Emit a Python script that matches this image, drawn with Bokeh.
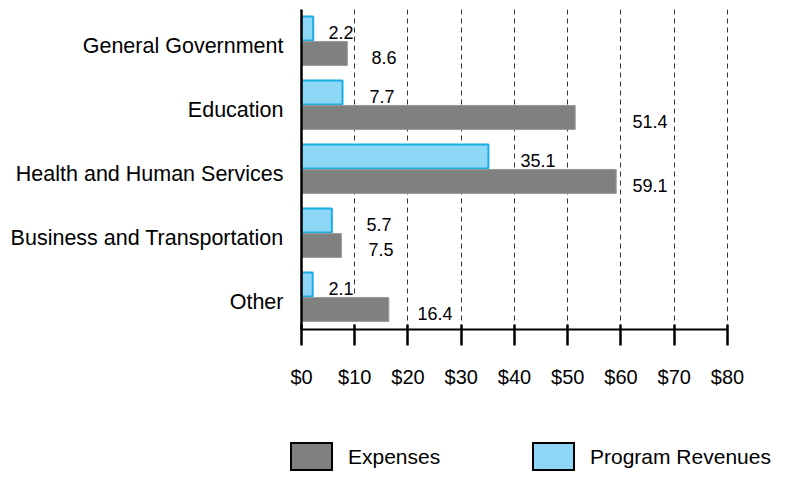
from bokeh.plotting import figure
from bokeh.layouts import column
from bokeh.models import Range1d, FixedTicker, ColumnDataSource, Div
from bokeh.transform import dodge
from bokeh.core.properties import value
from bokeh.embed import file_html
from bokeh.resources import INLINE

# ---- data ----
categories = ["General Government", "Education", "Health and Human Services",
              "Business and Transportation", "Other"]
expenses = [8.6, 51.4, 59.1, 7.5, 16.4]
revenues = [2.2, 7.7, 35.1, 5.7, 2.1]
tick_values = [0, 10, 20, 30, 40, 50, 60, 70, 80]
tick_labels = ["$0", "$10", "$20", "$30", "$40", "$50", "$60", "$70", "$80"]
series_names = ["Expenses", "Program Revenues"]

# label placement offsets (data units, to the right of each bar end)
exp_label_dx = [4.55, 10.76, 3.06, 5.08, 5.38]
rev_label_dx = [2.87, 5.07, 6.03, 6.51, 2.97]

FONT = "Liberation Sans"
EXP_FILL = "#808080"
REV_FILL = "#8fd7f7"
REV_LINE = "#19ade6"

idx = list(range(len(categories)))
src = ColumnDataSource(dict(
    y=idx,
    exp=expenses,
    rev=revenues,
    exp_lx=[v + d for v, d in zip(expenses, exp_label_dx)],
    rev_lx=[v + d for v, d in zip(revenues, rev_label_dx)],
    exp_txt=[f"{v:.1f}" for v in expenses],
    rev_txt=[f"{v:.1f}" for v in revenues],
))

p = figure(width=773, height=420, output_backend="svg", toolbar_location=None,
           x_range=Range1d(0, 80.19), y_range=Range1d(4.43, -0.57),
           min_border_left=301, min_border_right=45,
           min_border_top=9, min_border_bottom=91)
p.outline_line_color = None
p.background_fill_color = "white"

REV_OFF = -0.2734
EXP_OFF = 0.117
BAR_H = 0.375

p.hbar(y=dodge("y", REV_OFF, range=p.y_range), left=0, right="rev",
       height=BAR_H, source=src, fill_color=REV_FILL, line_color=REV_LINE,
       line_width=2)
p.hbar(y=dodge("y", EXP_OFF, range=p.y_range), left=0, right="exp",
       height=BAR_H, source=src, fill_color=EXP_FILL, line_color="#9a9a9a",
       line_width=1)

p.text(x="rev_lx", y=dodge("y", REV_OFF, range=p.y_range), text="rev_txt",
       source=src, text_font=value(FONT), text_font_size="18px",
       text_baseline="middle", text_align="left", y_offset=4,
       text_color="black")
p.text(x="exp_lx", y=dodge("y", EXP_OFF, range=p.y_range), text="exp_txt",
       source=src, text_font=value(FONT), text_font_size="18px",
       text_baseline="middle", text_align="left", y_offset=4,
       text_color="black")

# x axis
xa = p.xaxis[0]
xa.ticker = FixedTicker(ticks=tick_values)
xa.major_label_overrides = {v: l for v, l in zip(tick_values, tick_labels)}
xa.axis_line_width = 2
xa.axis_line_color = "black"
xa.major_tick_line_width = 2.5
xa.major_tick_line_color = "black"
xa.major_tick_in = 5
xa.major_tick_out = 16
xa.minor_tick_line_color = None
xa.major_label_text_font = FONT
xa.major_label_text_font_size = "20px"
xa.major_label_text_color = "black"
xa.major_label_standoff = 20
xa.bounds = (0, 80)

# y axis
ya = p.yaxis[0]
ya.ticker = FixedTicker(ticks=idx)
ya.major_label_overrides = {i: c for i, c in zip(idx, categories)}
ya.axis_line_width = 2.5
ya.axis_line_color = "black"
ya.major_tick_line_color = None
ya.minor_tick_line_color = None
ya.major_tick_out = 0
ya.major_tick_in = 0
ya.major_label_text_font = FONT
ya.major_label_text_font_size = "21.5px"
ya.major_label_text_color = "black"
ya.major_label_standoff = 18

p.ygrid.grid_line_color = None
p.xgrid.ticker = FixedTicker(ticks=tick_values[1:])
p.xgrid.grid_line_color = "#333333"
p.xgrid.grid_line_dash = "5 4"
p.xgrid.grid_line_width = 1

# legend strip below the chart
legend_items = [(series_names[0], EXP_FILL, 290, 348),
                (series_names[1], REV_FILL, 532, 590)]
parts = []
for name, color, sw_left, txt_left in legend_items:
    parts.append(
        f'<div style="position:absolute;left:{sw_left}px;top:22px;width:43px;'
        f'height:29px;box-sizing:border-box;border:2px solid black;'
        f'background:{color};"></div>')
    parts.append(
        f'<div style="position:absolute;left:{txt_left}px;top:22px;'
        f'height:29px;line-height:29px;white-space:nowrap;">{name}</div>')
html = ('<div style="position:relative;width:773px;height:51px;'
        f"font-family:'{FONT}';font-size:21px;color:black;\">"
        + "".join(parts) + "</div>")
legend_div = Div(text=html, width=773, height=51, margin=(0, 0, 0, 0))

layout = column(p, legend_div, spacing=0)
open("out.html", "w").write(file_html(layout, INLINE))
